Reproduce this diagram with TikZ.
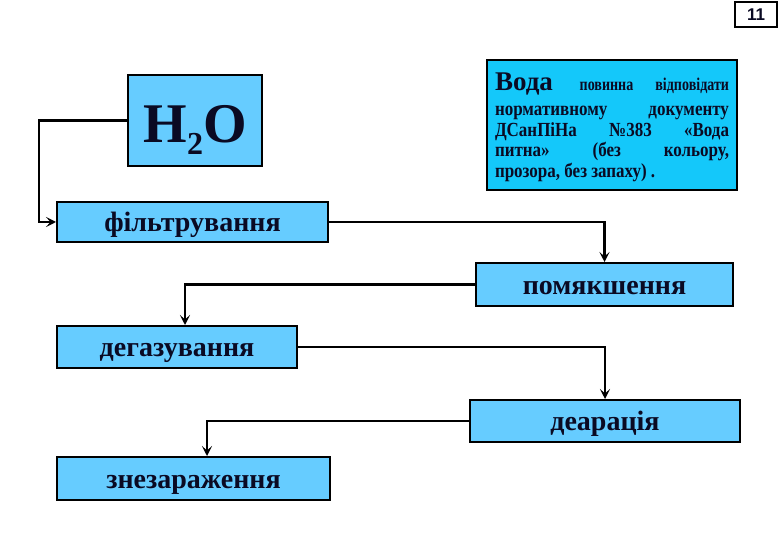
\documentclass[tikz,border=0pt]{standalone}
\usepackage{fontspec}
\setmainfont{Liberation Serif}
\newfontfamily\numfont{Liberation Sans}
\newfontfamily\notefont[FakeStretch=0.85]{Liberation Serif}
\newfontfamily\notesmall[FakeStretch=0.78]{Liberation Serif}
\usetikzlibrary{arrows.meta}

\definecolor{stepblue}{RGB}{102,204,255}
\definecolor{noteblue}{RGB}{20,200,250}
\definecolor{ink}{RGB}{10,10,35}

\begin{document}
\begin{tikzpicture}[
  x = 1pt, y = -1pt,
  stepbox/.style = {draw, line width=2pt, fill=stepblue, inner sep=0pt,
                    text height=23pt, text depth=3pt,
                    font=\bfseries\fontsize{28}{28}\selectfont, text=ink},
  flow/.style    = {draw, line width=2.2pt, -{Stealth[length=10pt, width=10pt, inset=4.5pt]}},
]

\useasboundingbox (0,0) rectangle (780,540);

% page number
\node[draw, line width=1.4pt, minimum width=42pt, minimum height=25pt, inner sep=0pt,
      font=\numfont\bfseries\fontsize{17}{17}\selectfont, text=ink]
  (page) at (756, 14.5) {11};

% water
\node[stepbox, minimum width=134pt, minimum height=91pt, text height=57pt, text depth=12pt,
      font=\bfseries\fontsize{56}{56}\selectfont]
  (water) at (195, 120.5) {H\raisebox{-12pt}{\fontsize{32}{32}\selectfont 2}O};

% requirement note
\node[draw, line width=2pt, fill=noteblue, minimum width=250pt, minimum height=130pt]
  (note) at (612, 125) {};
\node[inner sep=0pt, text width=234pt, align=justify, text=ink, yshift=-2pt,
      font=\notefont\bfseries\fontsize{20}{20.5}\selectfont]
  (notetext) at (note.center)
  {{\rmfamily\bfseries\fontsize{27}{27}\selectfont Вода}
   {\notesmall\bfseries\fontsize{18}{18}\selectfont повинна відповідати}\linebreak
   \rule{0pt}{20pt}нормативному документу\linebreak
   ДСанПіНа №383 «Вода\linebreak
   питна» (без кольору,\linebreak
   прозора, без запаху)~.};

% treatment steps
\foreach \name/\cx/\cy/\w/\h/\label in {%
    filter/192.5/222/271/40/{фільтрування},
    soften/604.5/284.5/257/43/{помякшення},
    degas/177/347/240/42/{дегазування},
    deaer/605/421/270/42/{деарація},
    disinf/193.5/478.5/273/43/{знезараження}%
  }{%
    \node[stepbox, minimum width=\w pt, minimum height=\h pt] (\name) at (\cx, \cy) {\label};
  }

\draw[flow] (water.west) -- ++(-88,0) |- (filter.west);
\draw[flow] (filter.east) -| (soften.north);
\draw[flow] (soften.west) -| ([xshift=8pt]degas.north);
\draw[flow] (degas.east) -| (deaer.north);
\draw[flow] (deaer.west) -| ([xshift=13.5pt]disinf.north);

\end{tikzpicture}
\end{document}
